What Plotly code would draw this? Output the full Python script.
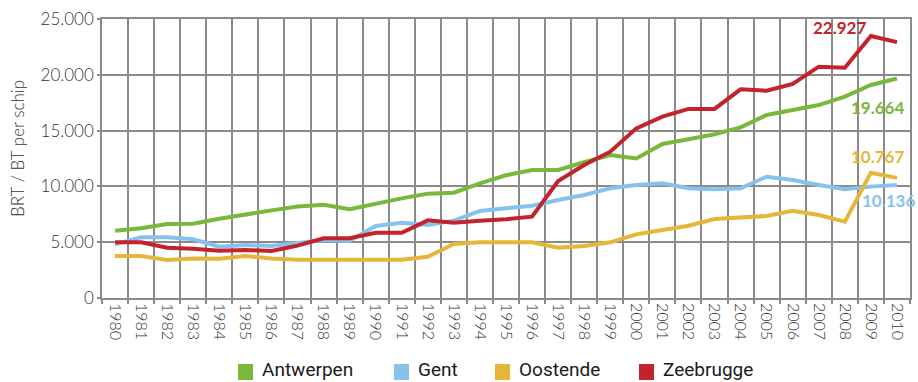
import plotly.graph_objects as go

years = [str(y) for y in range(1980, 2011)]

antwerpen = [6030, 6250, 6630, 6650, 7100, 7500, 7850, 8200, 8350, 7950,
             8450, 8930, 9350, 9440, 10270, 11000, 11470, 11470, 12160, 12810,
             12510, 13800, 14220, 14670, 15290, 16400, 16850, 17290, 18040, 19090,
             19664]
gent = [4810, 5440, 5440, 5260, 4600, 4750, 4660, 4900, 5200, 5140,
        6450, 6750, 6540, 6930, 7800, 8040, 8270, 8780, 9230, 9830,
        10130, 10280, 9830, 9740, 9830, 10870, 10570, 10130, 9740, 9980,
        10136]
oostende = [3760, 3760, 3400, 3550, 3520, 3760, 3550, 3430, 3430, 3430,
            3430, 3430, 3700, 4840, 4990, 5000, 4990, 4510, 4660, 4990,
            5700, 6090, 6480, 7080, 7200, 7350, 7820, 7440, 6840, 11230,
            10767]
zeebrugge = [4990, 5000, 4510, 4420, 4240, 4300, 4210, 4690, 5350, 5350,
             5850, 5850, 6960, 6750, 6930, 7050, 7290, 10480, 11920, 13110,
             15200, 16250, 16940, 16940, 18700, 18580, 19180, 20730, 20640, 23480,
             22927]

names = ["Antwerpen", "Gent", "Oostende", "Zeebrugge"]
values = [antwerpen, gent, oostende, zeebrugge]
colors = ["#78b83b", "#86c2ee", "#e5b63a", "#c3232b"]

y_ticks = [0, 5000, 10000, 15000, 20000, 25000]
y_ticktext = ["0", "5.000", "10.000", "15.000", "20.000", "25.000"]

# plot area in pixels (left, right, top, bottom)
L, R, T, B = 102, 910, 19, 298
W, H = 918, 382


def px_x(px):
    return (px - L) / (R - L)


def px_y(py):
    return (B - py) / (B - T)


fig = go.Figure()

for name, vals, col in zip(names, values, colors):
    fig.add_trace(go.Scatter(x=years, y=vals, mode="lines", name=name,
                             line=dict(color=col, width=4), showlegend=False,
                             hoverinfo="skip"))


def fmt(v):
    return f"{v:,}".replace(",", ".")


# end-of-series value labels
label_pos = [(877, 107, 0), (888, 201, 1), (877, 156, 2), (839, 28, 3)]
for xpx, ypx, i in label_pos:
    fig.add_annotation(xref="paper", yref="paper",
                       x=px_x(xpx), y=px_y(ypx),
                       text="<b>" + fmt(values[i][-1]) + "</b>", showarrow=False,
                       font=dict(family="Lato", size=17, color=colors[i]),
                       xanchor="center", yanchor="middle")

# legend row: colour swatch followed by the port name
legend_x = [238, 394, 495, 639]
for xpx, name, col in zip(legend_x, names, colors):
    fig.add_shape(type="rect", xref="paper", yref="paper",
                  x0=px_x(xpx), x1=px_x(xpx + 15),
                  y0=px_y(364), y1=px_y(380),
                  fillcolor=col, line=dict(width=0))
    fig.add_annotation(xref="paper", yref="paper",
                       x=px_x(xpx + 23), y=px_y(369),
                       text=name, showarrow=False,
                       font=dict(family="Roboto", size=19, color="#1a1a1a"),
                       xanchor="left", yanchor="middle", borderpad=0)

# y-axis title
fig.add_annotation(xref="paper", yref="paper", x=px_x(17), y=px_y(149),
                   text="BRT / BT per schip", textangle=-90, showarrow=False,
                   font=dict(family="Lato", size=17, color="#333", weight=300),
                   xanchor="center", yanchor="middle")

grid = "#8a8a8a"
fig.update_layout(
    width=W, height=H,
    margin=dict(l=L, r=W - R, t=T, b=H - B),
    paper_bgcolor="white", plot_bgcolor="white",
    showlegend=False,
    xaxis=dict(type="category", tickson="boundaries", range=[-0.5, 30.5],
               showgrid=True, gridcolor=grid, gridwidth=1.5,
               ticks="outside", ticklen=4, tickcolor=grid, tickwidth=1.5,
               tickangle=90, automargin=False,
               tickfont=dict(family="Lato", size=16, color="#333", weight=300),
               showline=True, linecolor=grid, linewidth=1.5, mirror=True,
               zeroline=False),
    yaxis=dict(range=[0, 25000], tickvals=y_ticks, ticktext=y_ticktext,
               showgrid=True, gridcolor=grid, gridwidth=1.5,
               ticks="outside", ticklen=3, tickcolor=grid, tickwidth=1.5,
               automargin=False,
               tickfont=dict(family="Lato", size=17, color="#333", weight=300),
               showline=True, linecolor=grid, linewidth=1.5, mirror=True,
               zeroline=False),
)

fig.write_html("out.html")
